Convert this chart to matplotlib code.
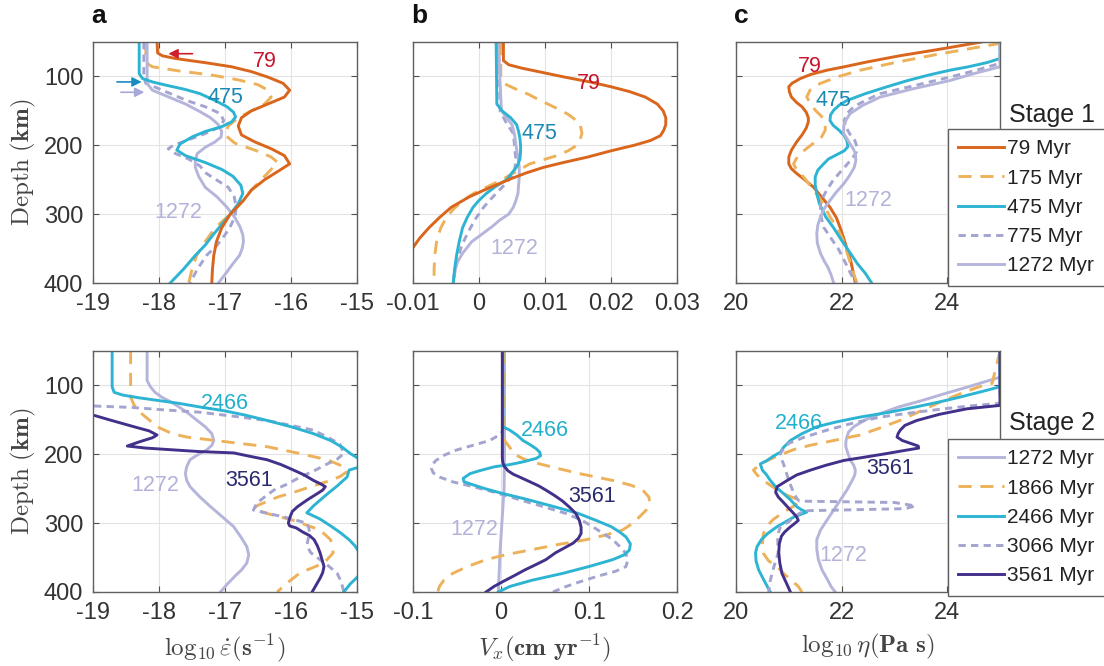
import matplotlib
matplotlib.use("Agg")
import matplotlib.pyplot as plt

plt.rcParams['font.family'] = ['Liberation Sans', 'DejaVu Sans']
plt.rcParams['mathtext.fontset'] = 'cm'

# ---------------- data: (depth km, value) ----------------
# panel a, stage 1: log10 strain rate
sr1_79_z = [50, 66, 70, 74, 80, 86, 93, 101, 110, 120, 130, 140, 150, 160, 172, 185, 195, 205, 215, 227, 238, 250, 265, 280, 300, 320, 340, 360, 380, 400]
sr1_79_v = [-18.03, -18.02, -17.95, -17.75, -17.3, -16.9, -16.6, -16.35, -16.12, -16.02, -16.1, -16.35, -16.6, -16.75, -16.8, -16.75, -16.55, -16.3, -16.1, -16.02, -16.2, -16.4, -16.6, -16.72, -16.92, -17.05, -17.13, -17.17, -17.19, -17.2]
sr1_175_z = [50, 80, 86, 92, 98, 105, 112, 120, 130, 140, 150, 160, 172, 185, 197, 207, 217, 225, 235, 250, 265, 280, 300, 320, 340, 360, 380, 400]
sr1_175_v = [-18.2, -18.2, -18.1, -17.7, -17.2, -16.8, -16.5, -16.35, -16.3, -16.4, -16.6, -16.8, -16.95, -17.0, -16.85, -16.55, -16.3, -16.2, -16.3, -16.45, -16.6, -16.72, -16.92, -17.15, -17.3, -17.43, -17.5, -17.55]
sr1_475_z = [50, 96, 103, 108, 113, 119, 125, 135, 144, 152, 159, 166, 173, 180, 188, 198, 207, 215, 225, 235, 245, 258, 270, 285, 300, 315, 330, 345, 360, 380, 400]
sr1_475_v = [-18.3, -18.3, -18.25, -18.1, -17.88, -17.6, -17.38, -17.15, -16.97, -16.87, -16.84, -16.9, -17.05, -17.3, -17.5, -17.68, -17.73, -17.6, -17.3, -17.05, -16.88, -16.76, -16.73, -16.8, -16.92, -17.05, -17.18, -17.3, -17.45, -17.63, -17.83]
sr1_775_z = [50, 100, 110, 118, 126, 135, 144, 154, 164, 173, 183, 193, 200, 205, 212, 220, 230, 241, 252, 261, 275, 290, 304, 318, 330, 345, 360, 380, 400]
sr1_775_v = [-18.23, -18.23, -18.2, -18.0, -17.8, -17.58, -17.3, -17.07, -17.02, -17.07, -17.3, -17.58, -17.78, -17.86, -17.75, -17.55, -17.38, -17.28, -17.1, -16.95, -16.86, -16.83, -16.85, -16.92, -17.0, -17.12, -17.28, -17.42, -17.53]
sr1_1272_z = [50, 110, 120, 130, 140, 150, 160, 170, 180, 188, 195, 203, 212, 222, 232, 245, 261, 275, 290, 305, 319, 330, 340, 350, 360, 372, 385, 400]
sr1_1272_v = [-18.18, -18.18, -18.1, -17.85, -17.6, -17.4, -17.22, -17.1, -17.05, -17.06, -17.15, -17.3, -17.42, -17.45, -17.45, -17.4, -17.3, -17.12, -16.97, -16.85, -16.77, -16.73, -16.72, -16.74, -16.78, -16.88, -16.98, -17.1]

# panel b, stage 1: Vx
vx1_79_z = [50, 77, 83, 88, 94, 101, 108, 115, 122, 130, 140, 150, 160, 170, 178, 186, 193, 200, 208, 217, 225, 232, 240, 248, 256, 265, 275, 290, 305, 320, 335, 350]
vx1_79_v = [0.0037, 0.0037, 0.0045, 0.0065, 0.0095, 0.013, 0.0168, 0.02, 0.0228, 0.0252, 0.027, 0.0279, 0.0283, 0.0283, 0.028, 0.0275, 0.026, 0.0235, 0.02, 0.0165, 0.0128, 0.0098, 0.0072, 0.005, 0.003, 0.0008, -0.0015, -0.0042, -0.006, -0.0076, -0.009, -0.0101]
vx1_175_z = [50, 100, 110, 118, 126, 135, 145, 155, 168, 183, 195, 202, 208, 215, 227, 241, 250, 261, 270, 280, 292, 304, 320, 338, 360, 380, 400]
vx1_175_v = [0.0033, 0.0033, 0.0037, 0.0055, 0.0075, 0.0093, 0.0115, 0.0135, 0.0153, 0.0156, 0.0152, 0.0145, 0.0135, 0.0118, 0.0077, 0.0051, 0.0035, 0.0011, -0.0008, -0.0024, -0.0038, -0.0049, -0.0058, -0.0064, -0.0067, -0.0068, -0.0068]
vx1_475_z = [50, 140, 150, 160, 170, 180, 190, 200, 210, 220, 230, 240, 250, 260, 270, 280, 290, 305, 320, 340, 360, 380, 400]
vx1_475_v = [0.0026, 0.0027, 0.0035, 0.0048, 0.0057, 0.006, 0.0062, 0.0063, 0.0063, 0.0062, 0.0058, 0.005, 0.0042, 0.0025, 0.0011, 0.0, -0.0009, -0.0018, -0.0025, -0.003, -0.0034, -0.0037, -0.0039]
vx1_775_z = [50, 150, 165, 183, 202, 222, 235, 246, 256, 265, 278, 290, 305, 320, 335, 348, 365, 380, 400]
vx1_775_v = [0.0030, 0.0032, 0.0040, 0.0052, 0.0054, 0.0056, 0.0054, 0.0049, 0.0040, 0.0031, 0.0018, 0.0007, -0.0004, -0.0013, -0.0021, -0.0027, -0.0032, -0.0036, -0.0039]
vx1_1272_z = [50, 150, 160, 170, 185, 200, 217, 232, 246, 258, 270, 280, 290, 300, 309, 318, 328, 340, 357, 370, 381, 390, 400]
vx1_1272_v = [0.0029, 0.0034, 0.0042, 0.005, 0.0054, 0.0056, 0.0059, 0.0061, 0.0061, 0.006, 0.0059, 0.0056, 0.0052, 0.0045, 0.0031, 0.002, 0.0006, -0.0011, -0.0025, -0.0033, -0.0036, -0.0038, -0.0039]

# panel c, stage 1: log10 viscosity
eta1_79_z = [50, 56, 62, 70, 79, 86, 91, 97, 103, 110, 115, 122, 130, 138, 144, 152, 160, 166, 175, 185, 195, 207, 217, 227, 234, 241, 250, 261, 275, 290, 305, 319, 335, 350, 370, 400]
eta1_79_v = [24.65, 24.2, 23.74, 23.1, 22.48, 22.05, 21.72, 21.42, 21.22, 21.06, 21.0, 21.01, 21.05, 21.15, 21.25, 21.33, 21.37, 21.37, 21.33, 21.25, 21.15, 21.05, 21.0, 21.0, 21.05, 21.15, 21.3, 21.47, 21.62, 21.78, 21.9, 21.97, 22.04, 22.1, 22.18, 22.26]
eta1_175_z = [50, 52, 60, 69, 80, 91, 100, 110, 120, 130, 140, 149, 158, 168, 178, 188, 198, 207, 217, 227, 236, 246, 258, 270, 285, 304, 320, 338, 360, 380, 400]
eta1_175_v = [25.0, 25.0, 24.4, 23.74, 23.0, 22.35, 21.95, 21.6, 21.4, 21.34, 21.42, 21.5, 21.62, 21.69, 21.69, 21.62, 21.45, 21.3, 21.16, 21.09, 21.15, 21.28, 21.4, 21.52, 21.65, 21.78, 21.92, 22.03, 22.12, 22.2, 22.29]
eta1_475_z = [50, 74, 80, 86, 91, 98, 106, 115, 125, 135, 142, 149, 156, 164, 171, 178, 186, 193, 202, 208, 214, 220, 227, 236, 246, 258, 270, 285, 304, 320, 338, 355, 372, 386, 400]
eta1_475_v = [25.0, 25.0, 24.75, 24.4, 24.05, 23.65, 23.25, 22.86, 22.45, 22.1, 21.95, 21.85, 21.79, 21.78, 21.84, 21.95, 22.05, 22.1, 22.12, 22.05, 21.9, 21.75, 21.66, 21.55, 21.5, 21.5, 21.53, 21.58, 21.7, 21.85, 22.0, 22.15, 22.3, 22.45, 22.57]
eta1_775_z = [50, 81, 91, 101, 113, 125, 135, 144, 154, 164, 173, 183, 193, 202, 210, 217, 228, 241, 253, 265, 275, 285, 300, 319, 335, 352, 375, 400]
eta1_775_v = [25.0, 25.0, 24.55, 24.05, 23.4, 22.73, 22.45, 22.23, 22.1, 22.05, 22.08, 22.15, 22.25, 22.29, 22.28, 22.22, 22.1, 21.95, 21.82, 21.72, 21.65, 21.6, 21.6, 21.66, 21.8, 21.95, 22.1, 22.26]
eta1_1272_z = [50, 86, 96, 106, 118, 130, 142, 154, 164, 173, 183, 190, 198, 205, 212, 222, 232, 244, 256, 268, 280, 292, 304, 316, 328, 342, 357, 368, 377, 388, 400]
eta1_1272_v = [25.0, 25.0, 24.5, 24.05, 23.35, 22.73, 22.4, 22.16, 22.08, 22.04, 22.04, 22.1, 22.16, 22.22, 22.26, 22.27, 22.24, 22.15, 22.04, 21.9, 21.78, 21.67, 21.6, 21.55, 21.53, 21.54, 21.6, 21.67, 21.74, 21.8, 21.85]

# panel a, stage 2
sr2_1272_z = [50, 93, 102, 110, 117, 124, 131, 141, 151, 160, 170, 180, 187, 194, 201, 208, 218, 228, 238, 247, 262, 276, 290, 305, 320, 334, 346, 358, 368, 377, 388, 400]
sr2_1272_v = [-18.18, -18.18, -18.13, -18.06, -17.96, -17.82, -17.7, -17.55, -17.42, -17.3, -17.2, -17.17, -17.2, -17.28, -17.42, -17.53, -17.58, -17.6, -17.58, -17.53, -17.38, -17.22, -17.05, -16.87, -16.76, -16.67, -16.64, -16.67, -16.75, -16.85, -16.96, -17.07]
sr2_1866_z = [50, 117, 128, 138, 150, 160, 170, 175, 182, 189, 199, 208, 218, 225, 232, 238, 247, 255, 262, 274, 279, 286, 296, 310, 324, 343, 358, 372, 387, 400]
sr2_1866_v = [-18.43, -18.43, -18.38, -18.3, -18.15, -18.03, -17.8, -17.58, -16.97, -16.36, -15.86, -15.45, -15.2, -15.15, -15.25, -15.4, -15.7, -15.95, -16.2, -16.5, -16.57, -16.36, -15.96, -15.56, -15.4, -15.36, -15.5, -15.86, -16.06, -16.21]
sr2_2466_z = [50, 102, 110, 114, 118, 122, 126, 131, 137, 143, 150, 160, 170, 180, 190, 199, 206, 212, 218, 223, 233, 246, 260, 275, 285, 294, 304, 314, 324, 333, 342, 350, 360, 370, 378, 388, 400]
sr2_2466_v = [-18.71, -18.71, -18.68, -18.55, -18.3, -18.0, -17.7, -17.4, -17.0, -16.7, -16.4, -16.0, -15.66, -15.4, -15.22, -15.1, -14.98, -14.93, -14.95, -15.12, -15.15, -15.3, -15.48, -15.66, -15.76, -15.56, -15.4, -15.25, -15.12, -15.03, -14.97, -14.95, -14.93, -14.95, -14.99, -15.1, -15.2]
sr2_3066_z = [50, 128, 132, 135, 139, 145, 151, 158, 165, 175, 185, 199, 207, 214, 224, 233, 243, 252, 262, 271, 281, 286, 290, 295, 300, 307, 314, 323, 333, 343, 353, 363, 373, 383, 392, 400]
sr2_3066_v = [-19.5, -19.5, -18.4, -18.0, -17.37, -16.85, -16.36, -16.0, -15.66, -15.45, -15.26, -15.2, -15.3, -15.45, -15.65, -15.86, -16.05, -16.26, -16.4, -16.52, -16.57, -16.35, -16.15, -15.95, -15.76, -15.73, -15.72, -15.74, -15.76, -15.7, -15.56, -15.42, -15.3, -15.25, -15.22, -15.2]
sr2_3561_z = [50, 143, 150, 160, 166, 172, 176, 182, 188, 191, 193, 196, 198, 203, 208, 215, 223, 230, 238, 243, 247, 252, 257, 266, 276, 283, 290, 296, 300, 304, 307, 313, 318, 324, 333, 343, 353, 363, 372, 380, 390, 400]
sr2_3561_v = [-19.5, -19.0, -18.75, -18.38, -18.15, -18.03, -18.1, -18.3, -18.48, -18.2, -17.88, -17.4, -16.87, -16.62, -16.36, -16.15, -15.96, -15.8, -15.66, -15.55, -15.48, -15.52, -15.6, -15.75, -15.9, -15.98, -16.01, -16.03, -16.04, -16.02, -15.92, -15.82, -15.72, -15.65, -15.6, -15.56, -15.53, -15.5, -15.52, -15.56, -15.62, -15.68]

# panel b, stage 2
vx2_1272_z = [50, 200, 250, 300, 340, 370, 400]
vx2_1272_v = [0.004, 0.004, 0.0035, 0.001, -0.001, -0.002, -0.003]
vx2_1866_z = [50, 170, 180, 190, 199, 207, 214, 221, 228, 233, 238, 245, 252, 262, 271, 281, 290, 300, 310, 317, 324, 331, 339, 346, 353, 363, 373, 383, 392, 400]
vx2_1866_v = [0.003, 0.003, 0.004, 0.01, 0.014, 0.026, 0.044, 0.066, 0.089, 0.108, 0.127, 0.148, 0.161, 0.168, 0.169, 0.165, 0.158, 0.15, 0.138, 0.12, 0.097, 0.065, 0.033, 0.005, -0.017, -0.038, -0.055, -0.065, -0.07, -0.072]
vx2_2466_z = [50, 160, 165, 172, 180, 186, 192, 197, 202, 206, 211, 215, 218, 223, 228, 235, 240, 243, 250, 257, 265, 277, 286, 296, 305, 313, 320, 330, 339, 346, 353, 363, 373, 383, 392, 400]
vx2_2466_v = [0.002, 0.002, 0.01, 0.018, 0.025, 0.033, 0.04, 0.044, 0.045, 0.04, 0.025, 0.01, -0.007, -0.022, -0.035, -0.043, -0.042, -0.035, -0.018, 0.002, 0.028, 0.063, 0.088, 0.108, 0.125, 0.135, 0.142, 0.147, 0.146, 0.14, 0.127, 0.1, 0.07, 0.035, 0.01, -0.003]
vx2_3066_z = [50, 165, 170, 175, 180, 187, 194, 201, 209, 215, 221, 227, 233, 240, 247, 256, 266, 276, 286, 296, 305, 315, 324, 334, 344, 354, 363, 370, 377, 385, 392, 400]
vx2_3066_v = [0.002, 0.002, 0.0, -0.006, -0.013, -0.032, -0.051, -0.064, -0.074, -0.078, -0.079, -0.077, -0.07, -0.055, -0.032, -0.005, 0.021, 0.048, 0.074, 0.092, 0.104, 0.116, 0.127, 0.135, 0.142, 0.144, 0.142, 0.13, 0.11, 0.09, 0.074, 0.059]
vx2_3561_z = [50, 205, 212, 218, 224, 229, 233, 240, 246, 252, 260, 268, 277, 286, 296, 306, 315, 322, 329, 336, 343, 353, 360, 368, 377, 385, 392, 400]
vx2_3561_v = [0.0015, 0.0015, 0.002, 0.004, 0.008, 0.014, 0.021, 0.033, 0.043, 0.051, 0.061, 0.07, 0.078, 0.085, 0.089, 0.091, 0.091, 0.088, 0.082, 0.072, 0.062, 0.051, 0.04, 0.027, 0.014, 0.002, -0.008, -0.017]

# panel c, stage 2
eta2_1272_z = [50, 88, 95, 102, 112, 122, 132, 141, 150, 160, 168, 175, 182, 189, 199, 209, 216, 223, 230, 238, 252, 266, 281, 296, 310, 324, 338, 353, 368, 383, 392, 400]
eta2_1272_v = [25.0, 25.0, 24.7, 24.4, 23.95, 23.52, 23.05, 22.73, 22.45, 22.23, 22.13, 22.1, 22.08, 22.08, 22.12, 22.17, 22.23, 22.26, 22.25, 22.2, 22.1, 21.98, 21.85, 21.72, 21.6, 21.53, 21.53, 21.56, 21.63, 21.74, 21.8, 21.88]
eta2_1866_z = [50, 97, 102, 112, 122, 137, 151, 162, 172, 180, 187, 193, 199, 207, 214, 223, 230, 238, 245, 252, 260, 267, 275, 284, 295, 305, 315, 330, 344, 355, 363, 373, 383, 392, 400]
eta2_1866_v = [25.0, 24.85, 24.6, 24.25, 23.93, 23.5, 23.1, 22.72, 22.35, 21.85, 21.4, 21.1, 20.9, 20.65, 20.46, 20.33, 20.4, 20.52, 20.65, 20.78, 20.98, 21.22, 21.1, 20.9, 20.7, 20.58, 20.52, 20.5, 20.52, 20.62, 20.78, 20.9, 21.05, 21.18, 21.25]
eta2_2466_z = [50, 102, 110, 117, 124, 131, 139, 146, 153, 160, 170, 180, 190, 197, 203, 209, 214, 223, 230, 238, 248, 257, 266, 276, 281, 284, 288, 291, 298, 305, 315, 324, 334, 343, 355, 368, 383, 400]
eta2_2466_v = [25.0, 25.0, 24.6, 24.24, 23.85, 23.42, 22.9, 22.35, 21.9, 21.53, 21.25, 21.03, 20.9, 20.84, 20.7, 20.59, 20.46, 20.5, 20.58, 20.65, 20.76, 20.9, 21.03, 21.15, 21.25, 21.34, 21.2, 21.1, 20.94, 20.78, 20.6, 20.48, 20.4, 20.37, 20.38, 20.43, 20.53, 20.65]
eta2_3066_z = [50, 126, 130, 134, 140, 146, 155, 165, 175, 184, 192, 199, 207, 214, 226, 238, 248, 257, 264, 268, 270, 275, 279, 282, 286, 291, 298, 305, 315, 324, 343, 355, 368, 383, 400]
eta2_3066_v = [25.0, 25.0, 24.4, 23.93, 23.3, 22.73, 22.2, 21.72, 21.3, 21.0, 20.9, 20.84, 20.86, 20.9, 20.95, 21.0, 21.05, 21.1, 21.15, 21.2, 23.0, 23.4, 23.2, 21.3, 21.2, 21.1, 21.0, 20.84, 20.8, 20.79, 20.8, 20.75, 20.7, 20.65, 20.62]
eta2_3561_z = [50, 129, 134, 142, 151, 158, 165, 170, 175, 180, 184, 188, 191, 195, 199, 204, 209, 216, 223, 230, 238, 247, 255, 262, 270, 276, 284, 291, 296, 300, 306, 313, 319, 330, 343, 358, 373, 388, 400]
eta2_3561_v = [25.0, 25.0, 24.37, 23.85, 23.42, 23.2, 23.11, 23.07, 23.05, 23.15, 23.3, 23.45, 23.46, 23.15, 22.85, 22.45, 22.04, 21.7, 21.41, 21.15, 20.97, 20.78, 20.75, 20.8, 20.9, 20.97, 21.07, 21.15, 21.18, 21.12, 21.02, 20.92, 20.86, 20.82, 20.81, 20.83, 20.87, 20.96, 21.03]

stage1_labels = ['79 Myr', '175 Myr', '475 Myr', '775 Myr', '1272 Myr']
stage2_labels = ['1272 Myr', '1866 Myr', '2466 Myr', '3066 Myr', '3561 Myr']

# ---------------- styles ----------------
C_OR = '#D9661C'
C_ORL = '#EDB15A'
C_CY = '#2DB4D2'
C_LVD = '#A4A4D0'
C_LV = '#B5B5DB'
C_PU = '#43308A'
st_or = dict(color=C_OR, lw=2.1, ls='-')
st_orl = dict(color=C_ORL, lw=2.1, ls=(0, (4.5, 3)))
st_cy = dict(color=C_CY, lw=2.1, ls='-')
st_lvd = dict(color=C_LVD, lw=2.1, ls=(0, (2.5, 1.8)))
st_lv = dict(color=C_LV, lw=2.1, ls='-')
st_pu = dict(color=C_PU, lw=2.1, ls='-')
LBL = 15.5

fig = plt.figure(figsize=(11.04, 6.66), dpi=100)
lefts = [93, 413, 736]
tops = [42, 351]
W, H = 264, 241
axes = []
for r in range(2):
    row = []
    for c in range(3):
        ax = fig.add_axes([lefts[c] / 1104, 1 - (tops[r] + H) / 666, W / 1104, H / 666])
        row.append(ax)
    axes.append(row)

def style(ax, xlim, xticks, xtl, ylab=True):
    ax.set_xlim(*xlim)
    ax.set_ylim(400, 50)
    ax.set_xticks(xticks)
    ax.set_xticklabels(xtl)
    ax.set_yticks([100, 200, 300, 400])
    if not ylab:
        ax.set_yticklabels([])
    ax.grid(True, color='#E3E3E3', lw=0.8)
    ax.set_axisbelow(True)
    ax.tick_params(direction='in', length=4, labelsize=17, colors='#505050',
                   labelcolor='#333333', top=True, right=True, pad=7)
    for s in ax.spines.values():
        s.set_color('#606060')
        s.set_linewidth(1.0)

def draw(ax, series):
    for v, z, st in series:
        ax.plot(v, z, **st)

# ---- top row
ax = axes[0][0]
draw(ax, [(sr1_175_v, sr1_175_z, st_orl), (sr1_775_v, sr1_775_z, st_lvd),
          (sr1_1272_v, sr1_1272_z, st_lv), (sr1_475_v, sr1_475_z, st_cy),
          (sr1_79_v, sr1_79_z, st_or)])
style(ax, (-19, -15), [-19, -18, -17, -16, -15], ['-19', '-18', '-17', '-16', '-15'])
ax.text(-16.4, 79, '79', color='#C8142E', fontsize=LBL, ha='center', va='center')
ax.text(-17.0, 131, '475', color='#1A88B2', fontsize=LBL, ha='center', va='center')
ax.text(-17.7, 297, '1272', color='#B2B2DA', fontsize=LBL, ha='center', va='center')
ax.annotate('', xy=(-17.9, 67), xytext=(-17.45, 67),
            arrowprops=dict(arrowstyle='-|>', color='#D01E2A', lw=1.2, mutation_scale=14))
ax.annotate('', xy=(-18.22, 108), xytext=(-18.68, 108), annotation_clip=False,
            arrowprops=dict(arrowstyle='-|>', color='#1A8CC0', lw=1.2, mutation_scale=14))
ax.annotate('', xy=(-18.18, 123), xytext=(-18.62, 123), annotation_clip=False,
            arrowprops=dict(arrowstyle='-|>', color='#A8A8D8', lw=1.2, mutation_scale=14))

ax = axes[0][1]
draw(ax, [(vx1_175_v, vx1_175_z, st_orl), (vx1_775_v, vx1_775_z, st_lvd),
          (vx1_1272_v, vx1_1272_z, st_lv), (vx1_475_v, vx1_475_z, st_cy),
          (vx1_79_v, vx1_79_z, st_or)])
style(ax, (-0.01, 0.03), [-0.01, 0, 0.01, 0.02, 0.03], ['-0.01', '0', '0.01', '0.02', '0.03'], ylab=False)
ax.text(0.0167, 110, '79', color='#C8142E', fontsize=LBL, ha='center', va='center')
ax.text(0.0092, 183, '475', color='#1A88B2', fontsize=LBL, ha='center', va='center')
ax.text(0.0054, 350, '1272', color='#B2B2DA', fontsize=LBL, ha='center', va='center')

ax = axes[0][2]
h1 = []
for v, z, st, lab in [(eta1_79_v, eta1_79_z, st_or, stage1_labels[0]),
                      (eta1_175_v, eta1_175_z, st_orl, stage1_labels[1]),
                      (eta1_475_v, eta1_475_z, st_cy, stage1_labels[2]),
                      (eta1_775_v, eta1_775_z, st_lvd, stage1_labels[3]),
                      (eta1_1272_v, eta1_1272_z, st_lv, stage1_labels[4])]:
    h1.append(ax.plot(v, z, **st, label=lab)[0])
style(ax, (20, 25), [20, 22, 24], ['20', '22', '24'], ylab=False)
ax.text(21.4, 86, '79', color='#C8142E', fontsize=LBL, ha='center', va='center')
ax.text(21.85, 135, '475', color='#1A88B2', fontsize=LBL, ha='center', va='center')
ax.text(22.5, 280, '1272', color='#B2B2DA', fontsize=LBL, ha='center', va='center')

# ---- bottom row
ax = axes[1][0]
draw(ax, [(sr2_1272_v, sr2_1272_z, st_lv), (sr2_1866_v, sr2_1866_z, st_orl),
          (sr2_3066_v, sr2_3066_z, st_lvd), (sr2_2466_v, sr2_2466_z, st_cy),
          (sr2_3561_v, sr2_3561_z, st_pu)])
style(ax, (-19, -15), [-19, -18, -17, -16, -15], ['-19', '-18', '-17', '-16', '-15'])
ax.text(-17.0, 126, '2466', color='#22B0CC', fontsize=LBL, ha='center', va='center')
ax.text(-16.64, 238, '3561', color='#2A2A6E', fontsize=LBL, ha='center', va='center')
ax.text(-18.06, 245, '1272', color='#B2B2DA', fontsize=LBL, ha='center', va='center')

ax = axes[1][1]
draw(ax, [(vx2_1272_v, vx2_1272_z, st_lv), (vx2_1866_v, vx2_1866_z, st_orl),
          (vx2_3066_v, vx2_3066_z, st_lvd), (vx2_2466_v, vx2_2466_z, st_cy),
          (vx2_3561_v, vx2_3561_z, st_pu)])
style(ax, (-0.1, 0.2), [-0.1, 0, 0.1, 0.2], ['-0.1', '0', '0.1', '0.2'], ylab=False)
ax.text(0.0496, 165, '2466', color='#22B0CC', fontsize=LBL, ha='center', va='center')
ax.text(0.104, 262, '3561', color='#2A2A6E', fontsize=LBL, ha='center', va='center')
ax.text(-0.03, 309, '1272', color='#B2B2DA', fontsize=LBL, ha='center', va='center')

ax = axes[1][2]
h2 = []
for v, z, st, lab in [(eta2_1272_v, eta2_1272_z, st_lv, stage2_labels[0]),
                      (eta2_1866_v, eta2_1866_z, st_orl, stage2_labels[1]),
                      (eta2_2466_v, eta2_2466_z, st_cy, stage2_labels[2]),
                      (eta2_3066_v, eta2_3066_z, st_lvd, stage2_labels[3]),
                      (eta2_3561_v, eta2_3561_z, st_pu, stage2_labels[4])]:
    h2.append(ax.plot(v, z, **st, label=lab)[0])
style(ax, (20, 25), [20, 22, 24], ['20', '22', '24'], ylab=False)
ax.text(21.19, 156, '2466', color='#22B0CC', fontsize=LBL, ha='center', va='center')
ax.text(22.92, 221, '3561', color='#2A2A6E', fontsize=LBL, ha='center', va='center')
ax.text(22.04, 347, '1272', color='#B2B2DA', fontsize=LBL, ha='center', va='center')

# legends
for handles, ytop, ystage, title in [(h1, 129, 115, 'Stage 1'), (h2, 439, 423, 'Stage 2')]:
    leg = fig.legend(handles=handles, loc='upper left',
                     bbox_to_anchor=(948 / 1104, 1 - ytop / 666), bbox_transform=fig.transFigure,
                     borderaxespad=0, fontsize=15, frameon=True, fancybox=False,
                     handlelength=2.2, handletextpad=0.15, labelspacing=0.49,
                     borderpad=0.5, framealpha=1)
    leg.get_frame().set_edgecolor('#606060')
    leg.get_frame().set_linewidth(1.0)
    for t in leg.get_texts():
        t.set_color('#222222')
    fig.text(1095 / 1104, 1 - ystage / 666, title, ha='right', va='center', fontsize=18, color='#222222')

# axis labels
for r in range(2):
    axes[r][0].set_ylabel(r'$\mathrm{Depth}\ (\mathbf{km})$', fontsize=18, color='#444444', labelpad=4)
axes[1][0].set_xlabel(r'$\log_{10}\dot{\varepsilon}(\mathbf{s}^{\mathbf{-1}})$', fontsize=18, color='#444444', labelpad=6)
axes[1][1].set_xlabel(r'$V_x(\mathbf{cm\ yr}^{\mathbf{-1}})$', fontsize=18, color='#444444', labelpad=6)
axes[1][2].set_xlabel(r'$\log_{10}\eta(\mathbf{Pa\ s})$', fontsize=18, color='#444444', labelpad=6)

for c, letter in enumerate(['a', 'b', 'c']):
    fig.text((lefts[c] - 2) / 1104, 1 - 16 / 666, letter, fontsize=19, fontweight='bold',
             ha='left', va='center', color='#111111')

fig.savefig('out.png', dpi=100, facecolor='white')
